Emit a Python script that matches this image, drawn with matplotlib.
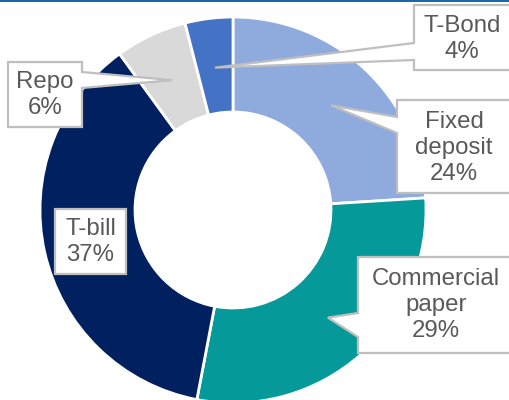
import numpy as np
import matplotlib.pyplot as plt
from matplotlib.patches import Polygon

plt.rcParams['font.family'] = ['Liberation Sans', 'DejaVu Sans']

labels = ['Fixed\ndeposit', 'Commercial\npaper', 'T-bill', 'Repo', 'T-Bond']
shares = [24, 29, 37, 6, 4]
colors = ['#8FAADC', '#06999A', '#00205F', '#D9D9D9', '#4472C4']

W, H = 509, 400
cx, cy = 233, 210          # centre of the ring, image pixels
R, ring = 193, 95

fig = plt.figure(figsize=(W / 100, H / 100), dpi=100)
ax = fig.add_axes([0, 0, 1, 1])

wedges, _ = ax.pie(shares, colors=colors, startangle=90, counterclock=False,
                   radius=R, wedgeprops=dict(width=ring, edgecolor='white', linewidth=2))
ax.set_xlim(-cx, W - cx)
ax.set_ylim(cy - H, cy)
ax.set_aspect('auto')
ax.axis('off')


def px(x, y):
    # image pixel -> data
    return x - cx, cy - y


def callout(text, box, tip=None, side=None, base=None, tc=None):
    x0, y0, x1, y1 = box
    (a, b), (c, d) = px(x0, y0), px(x1, y1)
    pts = [(a, b), (c, b), (c, d), (a, d)]
    if tip is not None:
        t0, t1 = px(0, base[0])[1], px(0, base[1])[1]
        if side == 'left':
            pts = [(a, b), (c, b), (c, d), (a, d), (a, t1), tip, (a, t0)]
        else:
            pts = [(a, b), (c, b), (c, t0), tip, (c, t1), (c, d), (a, d)]
    ax.add_patch(Polygon(pts, closed=True, facecolor='white', edgecolor='#BFBFBF',
                         linewidth=1.6, zorder=5))
    tx, ty = px(*tc)
    ax.text(tx, ty, text, ha='center', va='center', fontsize=17.3, color='#595959',
            linespacing=1.22, zorder=6)


# pointer tips sit on the middle of each wedge
cum = np.cumsum([0] + shares)
mid_r = R - ring / 2 - 2
tips = []
for i in range(len(shares)):
    ang = np.deg2rad(90 - (cum[i] + shares[i] / 2) * 3.6)
    tips.append((mid_r * np.cos(ang), mid_r * np.sin(ang)))

callout('Fixed\ndeposit\n24%', (397, 100, 515, 193), tips[0], 'left', (117, 133), (454, 148))
callout('Commercial\npaper\n29%', (358, 257, 515, 353), tips[1], 'left', (313, 337), (436, 305))
callout('T-bill\n37%', (55, 209, 126, 274), tc=(90.5, 242))
callout('Repo\n6%', (8, 62, 82, 127), tips[3], 'right', (72, 88), (45, 95))
callout('T-Bond\n4%', (414, 5, 515, 70), tips[4], 'left', (43, 60), (462, 39))

ax.plot([-cx, W - cx], [cy - 0.7, cy - 0.7], color='#1464A8', linewidth=1.4, zorder=7,
        solid_capstyle='butt')

fig.savefig('out.png', dpi=100)
